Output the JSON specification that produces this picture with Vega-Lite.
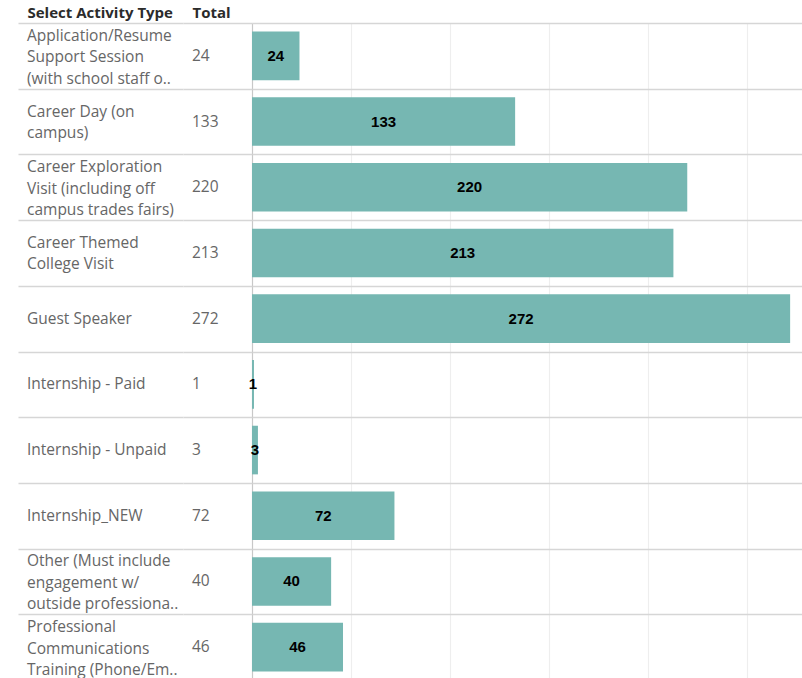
{
  "$schema": "https://vega.github.io/schema/vega-lite/v6.json",
  "padding": {"left": 18, "top": 5, "right": 0, "bottom": 0},
  "autosize": {"type": "pad"},
  "bounds": "flush",
  "spacing": 0,
  "background": "white",
  "config": {"view": {"stroke": null}, "font": "Open Sans"},
  "data": {
    "values": [
      {"activity": "Application/Resume\nSupport Session\n(with school staff o..", "total": 24},
      {"activity": "Career Day (on\ncampus)", "total": 133},
      {"activity": "Career Exploration\nVisit (including off\ncampus trades fairs)", "total": 220},
      {"activity": "Career Themed\nCollege Visit", "total": 213},
      {"activity": "Guest Speaker", "total": 272},
      {"activity": "Internship - Paid", "total": 1},
      {"activity": "Internship - Unpaid", "total": 3},
      {"activity": "Internship_NEW", "total": 72},
      {"activity": "Other (Must include\nengagement w/\noutside professiona..", "total": 40},
      {"activity": "Professional\nCommunications\nTraining (Phone/Em..", "total": 46}
    ]
  },
  "hconcat": [
    {
      "width": 165,
      "height": 657,
      "encoding": {
        "x": {
          "datum": "Select Activity Type",
          "type": "nominal",
          "scale": {"type": "point", "padding": 0, "align": 0},
          "axis": {"orient": "top", "title": null, "ticks": false, "domain": false, "grid": false, "labelAngle": 0, "labelAlign": "left", "labelOffset": 9, "labelPadding": 3, "labelFontWeight": "bold", "labelFontSize": 15, "labelColor": "#2b2b2b", "labelFont": "Open Sans"}
        },
        "y": {
          "field": "activity",
          "type": "nominal",
          "sort": null,
          "scale": {
            "paddingInner": 0,
            "paddingOuter": 0,
            "domain": [
              "Application/Resume\nSupport Session\n(with school staff o..",
              "Career Day (on\ncampus)",
              "Career Exploration\nVisit (including off\ncampus trades fairs)",
              "Career Themed\nCollege Visit",
              "Guest Speaker",
              "Internship - Paid",
              "Internship - Unpaid",
              "Internship_NEW",
              "Other (Must include\nengagement w/\noutside professiona..",
              "Professional\nCommunications\nTraining (Phone/Em.."
            ]
          },
          "axis": {"title": null, "labels": false, "ticks": false, "domain": false, "grid": true, "tickBand": "extent", "gridColor": "#d6d6d6", "gridWidth": 1.5}
        },
        "text": {"field": "activity"}
      },
      "layer": [
        {
          "transform": [{"filter": "length(split(datum.activity, '\\n')) == 1"}],
          "mark": {"type": "text", "align": "left", "baseline": "middle", "dx": 9, "dy": 0, "lineBreak": "\n", "lineHeight": 21.5, "fontSize": 15.5, "color": "#666666"}
        },
        {
          "transform": [{"filter": "length(split(datum.activity, '\\n')) == 2"}],
          "mark": {"type": "text", "align": "left", "baseline": "middle", "dx": 9, "dy": -10, "lineBreak": "\n", "lineHeight": 21.5, "fontSize": 15.5, "color": "#666666"}
        },
        {
          "transform": [{"filter": "length(split(datum.activity, '\\n')) == 3"}],
          "mark": {"type": "text", "align": "left", "baseline": "middle", "dx": 9, "dy": -20, "lineBreak": "\n", "lineHeight": 21.5, "fontSize": 15.5, "color": "#666666"}
        }
      ]
    },
    {
      "width": 69,
      "height": 657,
      "mark": {"type": "text", "align": "left", "baseline": "middle", "dx": 9, "fontSize": 15.5, "color": "#666666"},
      "encoding": {
        "x": {
          "datum": "Total",
          "type": "nominal",
          "scale": {"type": "point", "padding": 0, "align": 0},
          "axis": {"orient": "top", "title": null, "ticks": false, "domain": false, "grid": false, "labelAngle": 0, "labelAlign": "left", "labelOffset": 9, "labelPadding": 3, "labelFontWeight": "bold", "labelFontSize": 15, "labelColor": "#2b2b2b", "labelFont": "Open Sans"}
        },
        "y": {
          "field": "activity",
          "type": "nominal",
          "sort": null,
          "scale": {"paddingInner": 0, "paddingOuter": 0},
          "axis": {"title": null, "labels": false, "ticks": false, "domain": false, "grid": true, "tickBand": "extent", "gridColor": "#d6d6d6", "gridWidth": 1.5}
        },
        "text": {"field": "total", "type": "quantitative"}
      }
    },
    {
      "width": 550,
      "height": 657,
      "encoding": {
        "y": {
          "field": "activity",
          "type": "nominal",
          "sort": null,
          "scale": {"paddingInner": 0, "paddingOuter": 0},
          "axis": {"title": null, "labels": false, "ticks": false, "domain": false, "grid": true, "tickBand": "extent", "gridColor": "#d6d6d6", "gridWidth": 1.5}
        }
      },
      "resolve": {"scale": {"x": "independent"}},
      "layer": [
        {
          "mark": {"type": "bar", "color": "#76b7b2", "height": {"band": 0.74}},
          "encoding": {
            "x": {
              "field": "total",
              "type": "quantitative",
              "scale": {"domain": [0, 278], "nice": false, "zero": true},
              "axis": {"orient": "top", "title": null, "labels": false, "ticks": false, "domain": false, "grid": true, "values": [0, 50, 100, 150, 200, 250], "gridColor": {"condition": {"test": "datum.value === 0", "value": "#c8c8c8"}, "value": "#eeeeee"}, "gridWidth": 1.2}
            }
          }
        },
        {
          "mark": {"type": "text", "font": "Liberation Sans", "fontWeight": "bold", "fontSize": 15, "color": "#000000", "baseline": "middle"},
          "encoding": {
            "x": {"field": "total", "type": "quantitative", "scale": {"domain": [0, 556], "nice": false, "zero": true}, "axis": null},
            "text": {"field": "total", "type": "quantitative"}
          }
        }
      ]
    }
  ]
}
